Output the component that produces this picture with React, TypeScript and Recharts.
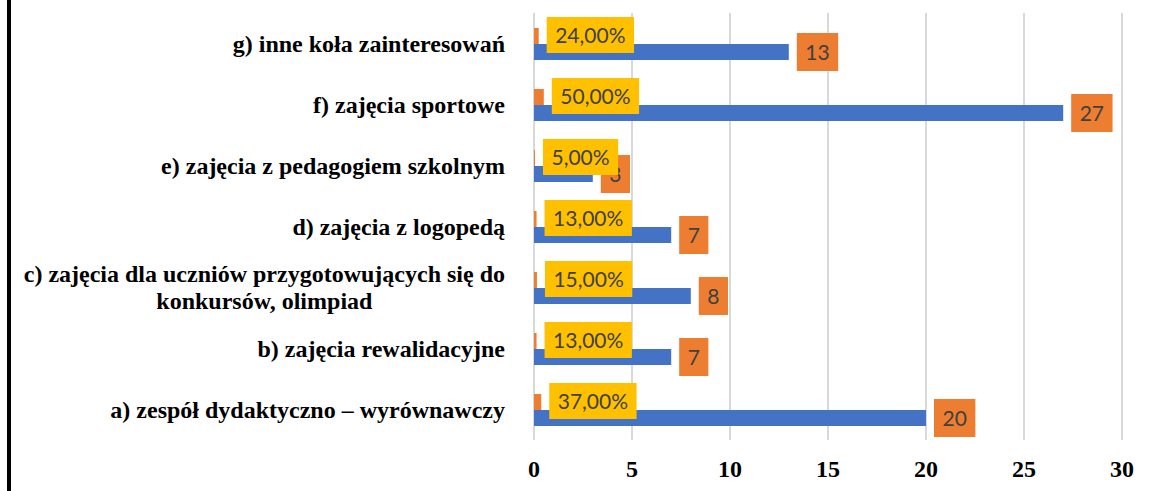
import { BarChart, Bar, XAxis, YAxis, CartesianGrid, LabelList } from "recharts";

// kategorie od góry do dołu (g → a)
const categories = [
  "g) inne koła zainteresowań",
  "f) zajęcia sportowe",
  "e) zajęcia z pedagogiem szkolnym",
  "d) zajęcia z logopedą",
  "c) zajęcia dla uczniów przygotowujących się do\nkonkursów, olimpiad",
  "b) zajęcia rewalidacyjne",
  "a) zespół dydaktyczno – wyrównawczy",
];
const counts = [13, 27, 3, 7, 8, 7, 20];
const shares = [0.24, 0.5, 0.05, 0.13, 0.15, 0.13, 0.37];
const xTicks = [0, 5, 10, 15, 20, 25, 30];

const data = categories.map((name, i) => ({
  name,
  count: counts[i],
  share: shares[i],
}));

const SERIF = "Liberation Serif";
const LABEL_FONT = "Lato";

let ctx: CanvasRenderingContext2D | null = null;
function measure(text: string, font: string) {
  if (!ctx) ctx = document.createElement("canvas").getContext("2d");
  if (!ctx) return text.length * 10;
  ctx.font = font;
  return ctx.measureText(text).width;
}

function CategoryTick(props: any) {
  const { x, y, payload } = props;
  const lines = String(payload.value).split("\n");
  const maxW = Math.max(...lines.map((l) => measure(l, `bold 24px "${SERIF}"`)));
  const single = lines.length === 1;
  const cx = single ? x : x - maxW / 2;
  return (
    <g>
      {lines.map((l, i) => (
        <text
          key={i}
          x={cx}
          y={y + (i - (lines.length - 1) / 2) * 27 + 8}
          textAnchor={single ? "end" : "middle"}
          style={{ fontFamily: SERIF, fontWeight: 700, fontSize: 24, fill: "#000" }}
        >
          {l}
        </text>
      ))}
    </g>
  );
}

function boxLabel(fill: string, h: number, fmt: (v: number) => string, dy: number) {
  return (props: any) => {
    const { x, y, width, height, value } = props;
    const text = fmt(Number(value));
    const tw = measure(text, `21px ${LABEL_FONT}`);
    const w = tw + 17;
    const left = Number(x) + Number(width) + 8;
    const cy = Number(y) + Number(height) / 2 + dy;
    return (
      <g>
        <rect x={left} y={cy - h / 2} width={w} height={h} fill={fill} />
        <text
          x={left + w / 2}
          y={cy + 7.5}
          textAnchor="middle"
          style={{ fontFamily: LABEL_FONT, fontSize: 21, fill: "#404040" }}
        >
          {text}
        </text>
      </g>
    );
  };
}

const pctLabel = boxLabel("#FFC000", 36, (v) => (v * 100).toFixed(2).replace(".", ",") + "%", -1);
const countLabel = boxLabel("#ED7D31", 38, (v) => String(v), 0);

export default function App() {
  return (
    <div style={{ position: "absolute", left: 0, top: 0, width: 1153, height: 491, background: "#fff" }}>
      <div style={{ position: "absolute", left: 7, top: 0, width: 4, height: 491, background: "#000" }} />
      <BarChart
        width={1153}
        height={491}
        data={data}
        layout="vertical"
        margin={{ top: 13, right: 31, left: 0, bottom: 0 }}
        barSize={16}
        barGap={0}
      >
        <CartesianGrid horizontal={false} stroke="#d9d9d9" strokeWidth={2} />
        <XAxis
          type="number"
          domain={[0, 30]}
          ticks={xTicks}
          axisLine={false}
          tickLine={false}
          height={51}
          tickMargin={14}
          tick={{ fontFamily: SERIF, fontWeight: "bold", fontSize: 24, fill: "#000" }}
        />
        <YAxis
          type="category"
          dataKey="name"
          width={534}
          axisLine={false}
          tickLine={false}
          tickMargin={23}
          tick={<CategoryTick />}
          interval={0}
        />
        <Bar dataKey="share" stackId="pct" fill="#ED7D31" isAnimationActive={false} />
        <Bar dataKey="count" fill="#4472C4" isAnimationActive={false}>
          <LabelList dataKey="count" content={countLabel} />
        </Bar>
        {/* bardzo cienki segment na końcu słupka procentowego – jego etykiety rysują się na wierzchu */}
        <Bar dataKey={() => 1e-6} stackId="pct" fill="none" isAnimationActive={false}>
          <LabelList dataKey="share" content={pctLabel} />
        </Bar>
      </BarChart>
    </div>
  );
}
